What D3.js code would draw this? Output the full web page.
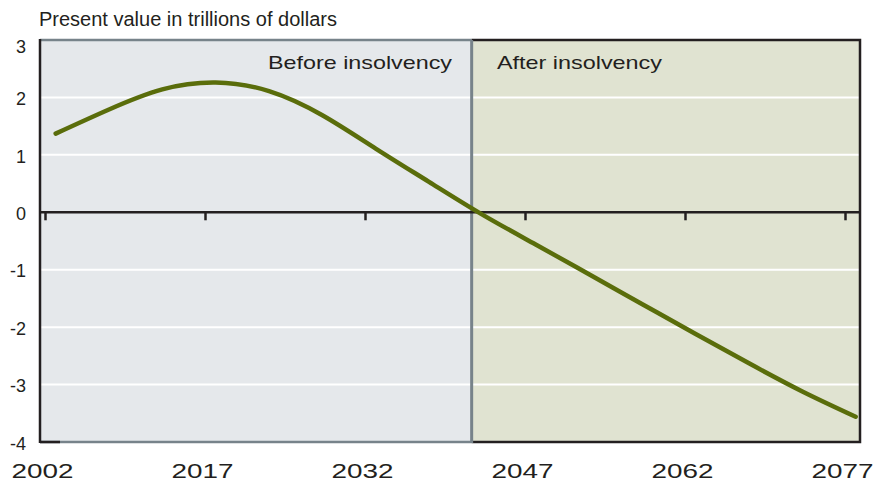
<!DOCTYPE html>
<html>
<head>
<meta charset="utf-8">
<script src="https://cdn.jsdelivr.net/npm/d3@7"></script>
<style>
  html, body { margin: 0; padding: 0; background: #ffffff; }
  svg { display: block; }
  text { font-family: "Liberation Sans", Arial, sans-serif; fill: #231f20; }
</style>
</head>
<body>
<svg id="chart" width="873" height="481"></svg>
<script>
// Present value of the trust fund balance (trillions of dollars)
const years = [2003, 2008, 2013, 2018, 2023, 2028, 2033, 2038,
               2043, 2048, 2053, 2058, 2063, 2068, 2073, 2078];
const values = [1.37, 1.79, 2.14, 2.26, 2.11, 1.69, 1.11, 0.53,
                -0.04, -0.56, -1.08, -1.60, -2.12, -2.63, -3.12, -3.56];

const xTicks = [2002, 2017, 2032, 2047, 2062, 2077];
const yTicks = [3, 2, 1, 0, -1, -2, -3, -4];
const insolvencyYear = 2042;
const yTitle = "Present value in trillions of dollars";
const regionLabels = ["Before insolvency", "After insolvency"];

const svg = d3.select("#chart");
const plotL = 40, plotR = 860, plotT = 40, plotB = 442;

const x = d3.scaleLinear().domain([2002, 2077]).range([45, 845]);
const y = d3.scaleLinear().domain([-4, 3]).range([plotB, plotT]);
const xDiv = x(insolvencyYear);

const dark = "#231f20", gray = "#77838a";

// Background panels
svg.append("rect").attr("x", plotL).attr("y", plotT).attr("width", xDiv - plotL).attr("height", plotB - plotT)
  .attr("fill", "#e5e8eb");
svg.append("rect").attr("x", xDiv).attr("y", plotT).attr("width", plotR - xDiv).attr("height", plotB - plotT)
  .attr("fill", "#e0e3d1");

// White gridlines
svg.append("g").selectAll("line").data(yTicks.filter(v => v !== 0 && v !== 3 && v !== -4)).join("line")
  .attr("x1", plotL).attr("x2", plotR)
  .attr("y1", d => y(d)).attr("y2", d => y(d))
  .attr("stroke", "#ffffff").attr("stroke-width", 2);

// Panel frames
const frame = svg.append("g").attr("fill", "none");
frame.append("line").attr("x1", plotL).attr("x2", xDiv).attr("y1", plotT).attr("y2", plotT)
  .attr("stroke", gray).attr("stroke-width", 2.5);
frame.append("line").attr("x1", plotL).attr("x2", xDiv).attr("y1", plotB).attr("y2", plotB)
  .attr("stroke", gray).attr("stroke-width", 2.5);
frame.append("path")
  .attr("d", `M${xDiv},${plotT}H${plotR}V${plotB}H${xDiv}`)
  .attr("stroke", dark).attr("stroke-width", 2.5);
frame.append("line").attr("x1", plotL).attr("x2", plotL + 20).attr("y1", plotB).attr("y2", plotB)
  .attr("stroke", dark).attr("stroke-width", 2.5);
frame.append("line").attr("x1", plotL).attr("x2", plotL).attr("y1", plotT - 1).attr("y2", plotB + 1)
  .attr("stroke", dark).attr("stroke-width", 2.5);
frame.append("line").attr("x1", xDiv).attr("x2", xDiv).attr("y1", plotT).attr("y2", plotB + 1)
  .attr("stroke", gray).attr("stroke-width", 3);

// Zero axis with ticks
const zeroAxis = svg.append("g").attr("transform", `translate(0,${y(0)})`)
  .call(d3.axisBottom(x).tickValues(xTicks).tickSize(8).tickFormat(""));
zeroAxis.select(".domain").remove();
zeroAxis.selectAll(".tick line").attr("stroke", dark).attr("stroke-width", 2.5);
svg.append("line").attr("x1", plotL).attr("x2", plotR).attr("y1", y(0)).attr("y2", y(0))
  .attr("stroke", dark).attr("stroke-width", 2.5);

// Bottom year labels
const xAxis = svg.append("g").attr("transform", `translate(0,${plotB})`)
  .call(d3.axisBottom(x).tickValues(xTicks).tickSize(0).tickPadding(22).tickFormat(d3.format("d")));
xAxis.select(".domain").remove();
xAxis.selectAll("text")
  .attr("font-size", 19.5).attr("fill", dark)
  .attr("textLength", 62).attr("lengthAdjust", "spacingAndGlyphs")
  .attr("dx", -3);

// Left value labels (plain hyphen for negatives)
const yAxis = svg.append("g").attr("transform", `translate(26,0)`)
  .call(d3.axisLeft(y).tickValues(yTicks).tickSize(0).tickPadding(0).tickFormat(d => String(d)));
yAxis.select(".domain").remove();
yAxis.selectAll(".tick").attr("transform", d => `translate(0,${Math.max(y(d) + 2, plotT + 7)})`);
yAxis.selectAll("text").attr("font-size", 18).attr("fill", dark);

// Data line
const line = d3.line().x((d, i) => x(years[i])).y(d => y(d)).curve(d3.curveNatural);
svg.append("path").datum(values)
  .attr("d", line)
  .attr("fill", "none").attr("stroke", "#5a6d0b").attr("stroke-width", 4.5)
  .attr("stroke-linecap", "round").attr("stroke-linejoin", "round");

// Titles and region labels
svg.append("text").attr("x", 39).attr("y", 26).attr("font-size", 20).text(yTitle);
svg.append("text").attr("x", 268).attr("y", 69).attr("font-size", 18.5)
  .attr("textLength", 184).attr("lengthAdjust", "spacingAndGlyphs").text(regionLabels[0]);
svg.append("text").attr("x", 497).attr("y", 69).attr("font-size", 18.5)
  .attr("textLength", 165).attr("lengthAdjust", "spacingAndGlyphs").text(regionLabels[1]);
</script>
</body>
</html>
